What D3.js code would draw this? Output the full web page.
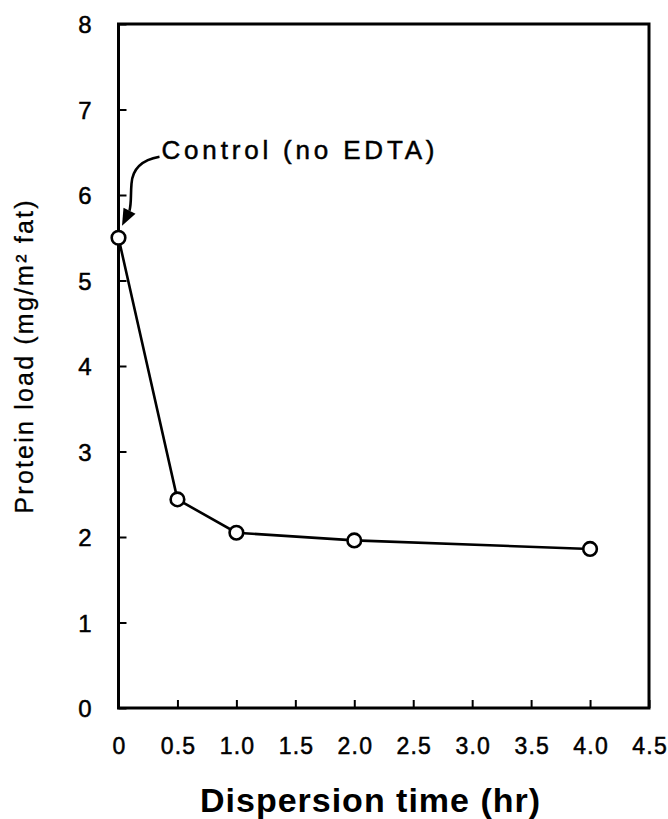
<!DOCTYPE html>
<html>
<head>
<meta charset="utf-8">
<script src="https://cdn.jsdelivr.net/npm/d3@7"></script>
<style>
  html, body { margin: 0; padding: 0; background: #fff; }
  svg { display: block; }
</style>
</head>
<body>
<svg id="chart" width="668" height="819"></svg>
<script>
// ---- data ----
const times = [0, 0.5, 1.0, 2.0, 4.0];
const proteinLoad = [5.5, 2.44, 2.05, 1.96, 1.86];
const xTickValues = [0, 0.5, 1.0, 1.5, 2.0, 2.5, 3.0, 3.5, 4.0, 4.5];
const xTickLabels = ["0", "0.5", "1.0", "1.5", "2.0", "2.5", "3.0", "3.5", "4.0", "4.5"];
const yTickValues = [0, 1, 2, 3, 4, 5, 6, 7, 8];
const yTickLabels = ["0", "1", "2", "3", "4", "5", "6", "7", "8"];
const xTitle = "Dispersion time (hr)";
const yTitle = "Protein load (mg/m² fat)";
const annotationText = "Control (no EDTA)";

// ---- layout ----
const svg = d3.select("#chart");
const plotLeft = 118.5, plotRight = 649, plotTop = 24, plotBottom = 708;
const x = d3.scaleLinear().domain([0, 4.5]).range([plotLeft, plotRight]);
const y = d3.scaleLinear().domain([0, 8]).range([plotBottom, plotTop]);
const font = "'Liberation Sans', Arial, Helvetica, sans-serif";

// x axis
const xAxis = d3.axisBottom(x)
  .tickValues(xTickValues)
  .tickFormat((d, i) => xTickLabels[i])
  .tickSizeInner(-8).tickSizeOuter(0).tickPadding(30);
const gx = svg.append("g").attr("transform", `translate(0,${plotBottom})`).call(xAxis);
gx.select(".domain").remove();
gx.selectAll("line").attr("stroke", "#000").attr("stroke-width", 2);
gx.selectAll("text")
  .attr("font-family", font).attr("font-size", 23).attr("fill", "#000")
  .attr("stroke", "#000").attr("stroke-width", 0.5)
  .attr("letter-spacing", "1.2px").attr("dx", "0.6px");

// y axis
const yAxis = d3.axisLeft(y)
  .tickValues(yTickValues)
  .tickFormat((d, i) => yTickLabels[i])
  .tickSizeInner(-8).tickSizeOuter(0).tickPadding(27);
const gy = svg.append("g").attr("transform", `translate(${plotLeft},0)`).call(yAxis);
gy.select(".domain").remove();
gy.selectAll("line").attr("stroke", "#000").attr("stroke-width", 2);
gy.selectAll("text")
  .attr("font-family", font).attr("font-size", 24).attr("fill", "#000")
  .attr("stroke", "#000").attr("stroke-width", 0.5)
  .attr("dy", "0.36em");

// frame
svg.append("rect")
  .attr("x", plotLeft).attr("y", plotTop)
  .attr("width", plotRight - plotLeft).attr("height", plotBottom - plotTop)
  .attr("fill", "none").attr("stroke", "#000").attr("stroke-width", 3);

// data line
const data = times.map((t, i) => ({ t, v: proteinLoad[i] }));
svg.append("path")
  .datum(data)
  .attr("fill", "none").attr("stroke", "#000").attr("stroke-width", 2.6)
  .attr("d", d3.line().x(d => x(d.t)).y(d => y(d.v)));

svg.selectAll("circle.pt")
  .data(data).enter().append("circle")
  .attr("class", "pt")
  .attr("cx", d => x(d.t)).attr("cy", d => y(d.v))
  .attr("r", 6.8)
  .attr("fill", "#fff").attr("stroke", "#000").attr("stroke-width", 2.6);

// annotation
const ax = x(times[0]), ay = y(proteinLoad[0]);
svg.append("text")
  .attr("x", ax + 43).attr("y", ay - 79)
  .attr("font-family", font).attr("font-size", 26).attr("fill", "#000")
  .attr("stroke", "#000").attr("stroke-width", 0.5)
  .attr("textLength", 273).attr("lengthAdjust", "spacing")
  .text(annotationText);

const tip = [ax + 3.5, ay - 12];
svg.append("path")
  .attr("fill", "none").attr("stroke", "#000").attr("stroke-width", 2.6)
  .attr("d", `M${ax + 41},${ay - 81} C${ax + 24},${ay - 78} ${ax + 14},${ay - 70} ${ax + 13},${ay - 54}
              C${ax + 12},${ay - 42} ${ax + 13},${ay - 35} ${ax + 11},${ay - 27}`);
svg.append("path")
  .attr("fill", "#000")
  .attr("d", `M${tip[0]},${tip[1]} L${ax + 5},${ay - 30} L${ax + 17},${ay - 24} Z`);

// axis titles
svg.append("text")
  .attr("x", (200 + 540) / 2).attr("y", 812)
  .attr("text-anchor", "middle")
  .attr("font-family", font).attr("font-size", 34).attr("font-weight", "bold").attr("fill", "#000")
  .attr("textLength", 340).attr("lengthAdjust", "spacing")
  .text(xTitle);

svg.append("text")
  .attr("transform", "translate(33,357) rotate(-90)")
  .attr("text-anchor", "middle")
  .attr("font-family", font).attr("font-size", 25).attr("fill", "#000")
  .attr("stroke", "#000").attr("stroke-width", 0.3)
  .attr("textLength", 313).attr("lengthAdjust", "spacing")
  .text(yTitle);
</script>
</body>
</html>
